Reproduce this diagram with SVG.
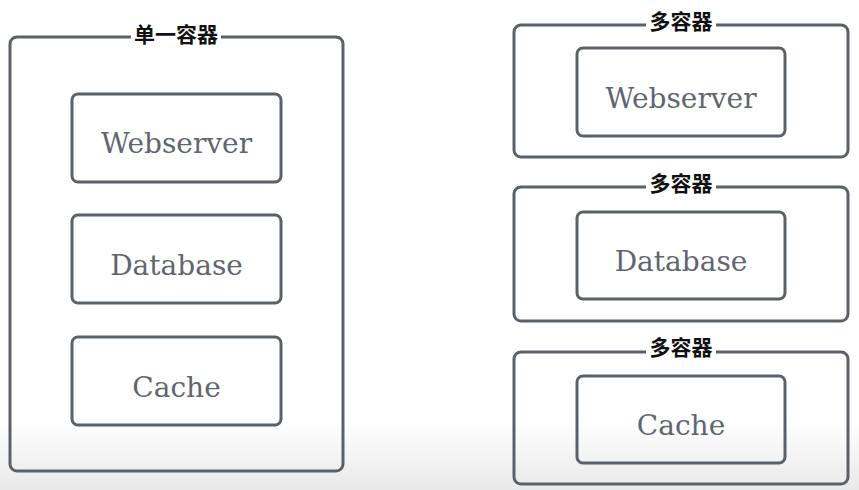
<svg xmlns="http://www.w3.org/2000/svg" width="859" height="490" viewBox="0 0 859 490">
<defs>
<linearGradient id="bg" x1="0" y1="0" x2="0" y2="1">
<stop offset="0" stop-color="#ffffff"/>
<stop offset="1" stop-color="#e9e9e9"/>
</linearGradient>
<style>
.box{fill:none;stroke:#5b6168;stroke-width:3}
.lbl{font-family:"DejaVu Serif","Liberation Serif",serif;font-size:28px;fill:#5f6670;text-anchor:middle}
.cap{font-family:"Noto Sans CJK SC",sans-serif;font-size:21px;font-weight:bold;fill:#111;text-anchor:middle}
.mask{fill:#ffffff}
</style>
</defs>
<rect x="0" y="0" width="859" height="490" fill="#ffffff"/>
<rect x="0" y="420" width="859" height="70" fill="url(#bg)"/>

<g id="single-container">
<rect class="box" x="10" y="37" width="333" height="434" rx="7"/>
<rect class="mask" x="131" y="28" width="90" height="18"/>
<text class="cap" x="176" y="42">单一容器</text>
</g>
<g id="single-webserver">
<rect class="box" x="72" y="94" width="209" height="88" rx="6"/>
<text class="lbl" x="176.5" y="153">Webserver</text>
</g>
<g id="single-database">
<rect class="box" x="72" y="215" width="209" height="88" rx="6"/>
<text class="lbl" x="176.5" y="275">Database</text>
</g>
<g id="single-cache">
<rect class="box" x="72" y="337" width="209" height="88" rx="6"/>
<text class="lbl" x="176.5" y="397">Cache</text>
</g>

<g id="multi-container-1">
<rect class="box" x="514" y="25" width="334" height="132" rx="7"/>
<rect class="mask" x="646" y="15" width="70" height="18"/>
<text class="cap" x="681" y="29">多容器</text>
</g>
<g id="multi-webserver">
<rect class="box" x="577" y="48" width="208" height="88" rx="6"/>
<text class="lbl" x="681" y="108">Webserver</text>
</g>

<g id="multi-container-2">
<rect class="box" x="514" y="187" width="334" height="134" rx="7"/>
<rect class="mask" x="646" y="177" width="70" height="18"/>
<text class="cap" x="681" y="191">多容器</text>
</g>
<g id="multi-database">
<rect class="box" x="577" y="212" width="208" height="87" rx="6"/>
<text class="lbl" x="681" y="271">Database</text>
</g>

<g id="multi-container-3">
<rect class="box" x="514" y="352" width="334" height="132" rx="7"/>
<rect class="mask" x="646" y="340" width="70" height="18"/>
<text class="cap" x="681" y="355">多容器</text>
</g>
<g id="multi-cache">
<rect class="box" x="577" y="376" width="208" height="87" rx="6"/>
<text class="lbl" x="681" y="435">Cache</text>
</g>

<g id="connectors"></g>
</svg>
